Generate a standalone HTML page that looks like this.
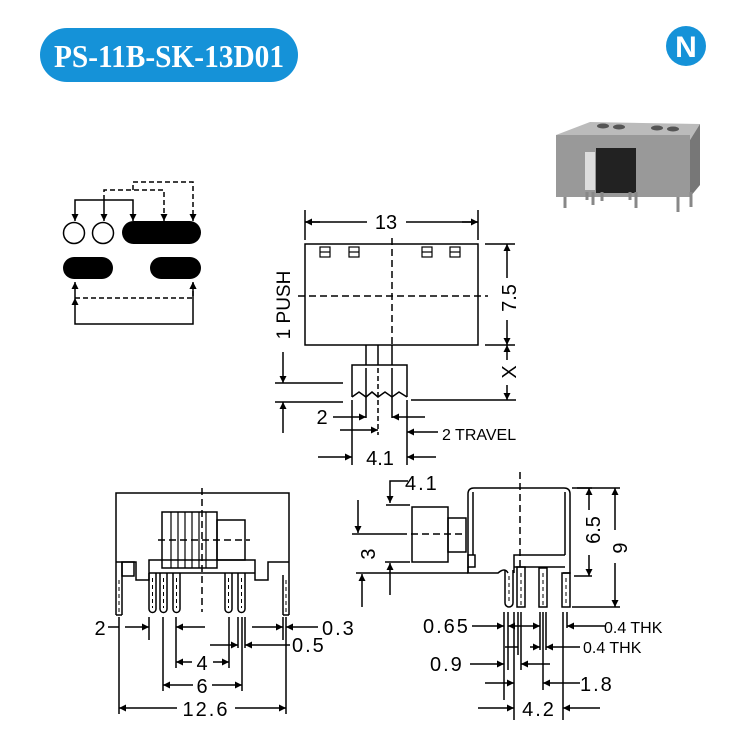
<!DOCTYPE html>
<html><head><meta charset="utf-8"><style>
html,body{margin:0;padding:0;background:#fff;}
svg{display:block}
text{font-family:"Liberation Sans",Arial,sans-serif;fill:#000}
</style></head><body>
<svg width="735" height="744" viewBox="0 0 735 744" xmlns="http://www.w3.org/2000/svg">
<defs>
<marker id="a" viewBox="0 0 10 10" refX="10" refY="5" markerWidth="9" markerHeight="7" orient="auto-start-reverse" markerUnits="userSpaceOnUse"><path d="M0,0 L10,5 L0,10 z" fill="#000"/></marker>
</defs>
<!-- title -->
<rect x="40" y="28" width="258" height="54" rx="27" fill="#1592d8"/>
<text x="169" y="67" text-anchor="middle" style="font-family:'Liberation Serif',serif;font-weight:bold;font-size:32px;fill:#fff" textLength="230" lengthAdjust="spacingAndGlyphs">PS-11B-SK-13D01</text>
<circle cx="686" cy="46" r="20" fill="#1592d8"/>
<text x="686" y="57" text-anchor="middle" style="font-weight:bold;font-size:30px;fill:#fff">N</text>

<!-- photo -->
<g>
<polygon points="556,135 590,122 700,124 690,140" fill="#bbb"/>
<rect x="556" y="135" width="134" height="62" fill="#999"/>
<polygon points="690,140 700,124 700,185 690,197" fill="#777"/>
<rect x="596" y="148" width="40" height="45" fill="#222"/>
<rect x="585" y="152" width="10" height="38" fill="#ddd"/>
<g fill="#555"><ellipse cx="603" cy="126" rx="6" ry="2.5"/><ellipse cx="619" cy="127" rx="6" ry="2.5"/><ellipse cx="657" cy="128" rx="6" ry="2.5"/><ellipse cx="673" cy="129" rx="6" ry="2.5"/></g>
<g stroke="#888" stroke-width="3"><line x1="565" y1="197" x2="565" y2="208"/><line x1="587" y1="192" x2="587" y2="200"/><line x1="593" y1="192" x2="593" y2="205"/><line x1="602" y1="192" x2="602" y2="201"/><line x1="630" y1="192" x2="630" y2="200"/><line x1="636" y1="192" x2="636" y2="208"/><line x1="678" y1="197" x2="678" y2="212"/><line x1="691" y1="192" x2="691" y2="207"/></g>
</g>

<!-- schematic -->
<g stroke="#000" stroke-width="1.5" fill="none">
<circle cx="74" cy="233" r="10.5"/><circle cx="103" cy="233" r="10.5"/>
<polyline points="75,221 75,200 133,200 133,221" marker-start="url(#a)" marker-end="url(#a)"/>
<line x1="104" y1="200" x2="104" y2="221" marker-end="url(#a)"/>
<polyline points="104,200 104,190 164,190 164,221" stroke-dasharray="5,3" marker-end="url(#a)"/>
<polyline points="133,190 133,182 193,182 193,221" stroke-dasharray="5,3" marker-end="url(#a)"/>
<polyline points="75,298 75,282" marker-end="url(#a)"/>
<polyline points="75,298 193,298 193,282" stroke-dasharray="5,3" marker-end="url(#a)"/>
<polyline points="193,310 193,324 75,324 75,298" marker-end="url(#a)"/>
<line x1="193" y1="310" x2="193" y2="282" marker-end="url(#a)"/>
</g>
<rect x="122" y="221" width="79" height="23" rx="11.5" fill="#000"/>
<rect x="63" y="257" width="50" height="22" rx="11" fill="#000"/>
<rect x="150" y="257" width="51" height="22" rx="11" fill="#000"/>

<!-- top view -->
<g stroke="#000" stroke-width="1.5" fill="none">
<rect x="305" y="244" width="173" height="101"/>
<g stroke-width="1.2"><rect x="320" y="247" width="10" height="10"/><line x1="320" y1="252" x2="330" y2="252"/><rect x="349" y="247" width="10" height="10"/><line x1="349" y1="252" x2="359" y2="252"/><rect x="422" y="247" width="10" height="10"/><line x1="422" y1="252" x2="432" y2="252"/><rect x="450" y="247" width="10" height="10"/><line x1="450" y1="252" x2="460" y2="252"/></g>
<line x1="392" y1="238" x2="392" y2="345" stroke-dasharray="7,4"/>
<line x1="298" y1="296" x2="488" y2="296" stroke-dasharray="7,4"/>
<line x1="366" y1="345" x2="366" y2="365"/><line x1="378" y1="345" x2="378" y2="365"/><line x1="392" y1="345" x2="392" y2="365"/>
<polyline points="352,397 352,365 407,365 407,397"/>
<polyline points="352,397 359,392 366,397 372,392 378,397 385,392 392,397 399,392 407,397"/>
<line x1="366" y1="368" x2="366" y2="418"/><line x1="378" y1="368" x2="378" y2="435" stroke-dasharray="5,3"/><line x1="392" y1="368" x2="392" y2="418"/>
<line x1="352" y1="400" x2="352" y2="465"/><line x1="407" y1="400" x2="407" y2="465"/>
<line x1="305" y1="240" x2="305" y2="210"/><line x1="478" y1="240" x2="478" y2="210"/>
<line x1="320" y1="222" x2="305" y2="222" marker-end="url(#a)"/><line x1="462" y1="222" x2="478" y2="222" marker-end="url(#a)"/>
<line x1="305" y1="222" x2="367" y2="222"/><line x1="406" y1="222" x2="478" y2="222"/>
<line x1="485" y1="244" x2="515" y2="244"/><line x1="485" y1="345" x2="515" y2="345"/>
<line x1="411" y1="400" x2="516" y2="400"/>
<line x1="507" y1="265" x2="507" y2="244" marker-end="url(#a)"/><line x1="507" y1="265" x2="507" y2="278"/>
<line x1="507" y1="320" x2="507" y2="345" marker-end="url(#a)"/>
<line x1="507" y1="360" x2="507" y2="345" marker-end="url(#a)"/>
<line x1="507" y1="385" x2="507" y2="400" marker-end="url(#a)"/>
<line x1="275" y1="383" x2="343" y2="383"/><line x1="275" y1="402" x2="343" y2="402"/>
<line x1="283" y1="352" x2="283" y2="383" marker-end="url(#a)"/>
<line x1="283" y1="433" x2="283" y2="402" marker-end="url(#a)"/>
<line x1="333" y1="417" x2="366" y2="417" marker-end="url(#a)"/>
<line x1="425" y1="417" x2="392" y2="417" marker-end="url(#a)"/>
<line x1="340" y1="430" x2="378" y2="430" marker-end="url(#a)"/>
<line x1="438" y1="432" x2="407" y2="432" marker-end="url(#a)"/>
<line x1="318" y1="457" x2="352" y2="457" marker-end="url(#a)"/>
<line x1="436" y1="457" x2="407" y2="457" marker-end="url(#a)"/>
</g>
<text x="386" y="229" text-anchor="middle" font-size="20">13</text>
<text transform="translate(516,298) rotate(-90)" text-anchor="middle" font-size="20">7.5</text>
<text transform="translate(516,372) rotate(-90)" text-anchor="middle" font-size="20">X</text>
<text transform="translate(290,305) rotate(-90)" text-anchor="middle" font-size="19">1 PUSH</text>
<text x="322" y="424" text-anchor="middle" font-size="20">2</text>
<text x="442" y="440" font-size="16">2 TRAVEL</text>
<text x="380" y="465" text-anchor="middle" font-size="20">4.1</text>

<!-- bottom left -->
<g stroke="#000" stroke-width="1.5" fill="none">
<polyline points="116,615 116,493 289,493 289,615"/>
<rect x="162" y="512" width="55" height="56"/>
<g stroke-width="1.2"><line x1="171" y1="512" x2="171" y2="568"/><line x1="178" y1="512" x2="178" y2="568"/><line x1="185" y1="512" x2="185" y2="568"/><line x1="192" y1="512" x2="192" y2="568"/><line x1="199" y1="512" x2="199" y2="568"/><line x1="206" y1="512" x2="206" y2="568"/></g>
<rect x="217" y="520" width="28" height="40"/>
<polyline points="116,562 136,562 136,580 149,580 149,560 255,560 255,580 268,580 268,562 289,562"/>
<line x1="149" y1="573" x2="255" y2="573"/>
<line x1="122" y1="562" x2="122" y2="615"/><line x1="283" y1="575" x2="283" y2="615"/>
<rect x="122" y="562" width="12" height="14"/>
<line x1="116" y1="615" x2="122" y2="615"/><line x1="283" y1="615" x2="289" y2="615"/>
<line x1="158" y1="540" x2="250" y2="540" stroke-dasharray="7,4"/>
<line x1="202" y1="488" x2="202" y2="612" stroke-dasharray="7,4"/>
<path d="M149,573 v36 a3.5,3.5 0 0 0 7,0 v-36"/>
<path d="M160,573 v36 a3.5,3.5 0 0 0 7,0 v-36"/>
<path d="M173,573 v36 a3.5,3.5 0 0 0 7,0 v-36"/>
<path d="M225,573 v36 a3.5,3.5 0 0 0 7,0 v-36"/>
<path d="M238,573 v36 a3.5,3.5 0 0 0 7,0 v-36"/>
<g stroke-dasharray="4,3" stroke-width="1"><line x1="152.5" y1="578" x2="152.5" y2="608"/><line x1="163.5" y1="578" x2="163.5" y2="608"/><line x1="176.5" y1="578" x2="176.5" y2="608"/><line x1="228.5" y1="578" x2="228.5" y2="608"/><line x1="241.5" y1="578" x2="241.5" y2="608"/><line x1="119" y1="580" x2="119" y2="612"/><line x1="286" y1="580" x2="286" y2="612"/></g>
<line x1="119" y1="617" x2="119" y2="714"/><line x1="149" y1="617" x2="149" y2="640"/>
<line x1="163" y1="617" x2="163" y2="691"/><line x1="176" y1="617" x2="176" y2="668"/>
<line x1="229" y1="617" x2="229" y2="668"/><line x1="238" y1="617" x2="238" y2="648"/><line x1="242" y1="617" x2="242" y2="691"/><line x1="245" y1="617" x2="245" y2="648"/>
<line x1="283" y1="617" x2="283" y2="640"/><line x1="286" y1="617" x2="286" y2="714"/>
<line x1="108" y1="627" x2="119" y2="627"/><line x1="125" y1="627" x2="149" y2="627" marker-end="url(#a)"/>
<line x1="205" y1="627" x2="176" y2="627" marker-end="url(#a)"/>
<line x1="252" y1="627" x2="283" y2="627" marker-end="url(#a)"/>
<line x1="318" y1="627" x2="286" y2="627" marker-end="url(#a)"/>
<line x1="210" y1="645" x2="238" y2="645" marker-end="url(#a)"/>
<line x1="290" y1="645" x2="245" y2="645" marker-end="url(#a)"/>
<line x1="192" y1="662" x2="176" y2="662" marker-end="url(#a)"/><line x1="213" y1="662" x2="229" y2="662" marker-end="url(#a)"/>
<line x1="193" y1="685" x2="163" y2="685" marker-end="url(#a)"/><line x1="212" y1="685" x2="242" y2="685" marker-end="url(#a)"/>
<line x1="177" y1="708" x2="119" y2="708" marker-end="url(#a)"/><line x1="235" y1="708" x2="286" y2="708" marker-end="url(#a)"/>
</g>
<text x="100" y="635" text-anchor="middle" font-size="20">2</text>
<text x="322" y="635" font-size="20" letter-spacing="2">0.3</text>
<text x="292" y="652" font-size="20" letter-spacing="2">0.5</text>
<text x="202" y="670" text-anchor="middle" font-size="20">4</text>
<text x="202" y="693" text-anchor="middle" font-size="20">6</text>
<text x="206" y="716" text-anchor="middle" font-size="20" letter-spacing="2">12.6</text>

<!-- bottom right -->
<g stroke="#000" stroke-width="1.5" fill="none">
<path d="M468,573 V494 Q468,488 474,488 H564 Q570,488 570,494 V573 H563"/>
<line x1="473" y1="492" x2="473" y2="555"/><rect x="468" y="555" width="7" height="12"/>
<line x1="565" y1="492" x2="565" y2="555"/>
<polyline points="514,573 514,555 565,555"/>
<line x1="514" y1="567" x2="565" y2="567"/>
<path d="M468,567 V573 H498 Q505,567 508,573"/>
<rect x="412" y="507" width="36" height="55"/>
<rect x="448" y="518" width="18" height="34"/>
<line x1="520" y1="472" x2="520" y2="567" stroke-dasharray="7,4"/>
<line x1="400" y1="534" x2="466" y2="534" stroke-dasharray="7,4"/>
<path d="M505,570 v33 a4,4 0 0 0 8,0 v-33"/>
<rect x="517" y="567" width="8" height="40"/>
<rect x="539" y="568" width="8" height="39"/>
<rect x="562" y="573" width="8" height="34"/>
<g stroke-dasharray="4,3" stroke-width="1"><line x1="509" y1="576" x2="509" y2="603"/><line x1="521" y1="573" x2="521" y2="605"/><line x1="543" y1="573" x2="543" y2="605"/><line x1="566" y1="578" x2="566" y2="605"/></g>
<line x1="572" y1="488" x2="592" y2="488"/><line x1="574" y1="576" x2="592" y2="576"/><line x1="572" y1="607" x2="620" y2="607"/><line x1="577" y1="488" x2="620" y2="488"/>
<line x1="589" y1="510" x2="589" y2="488" marker-end="url(#a)"/><line x1="589" y1="555" x2="589" y2="576" marker-end="url(#a)"/>
<line x1="615" y1="530" x2="615" y2="488" marker-end="url(#a)"/><line x1="615" y1="563" x2="615" y2="607" marker-end="url(#a)"/>
<polyline points="408,481 390,481 390,503" marker-end="url(#a)"/><line x1="386" y1="505" x2="410" y2="505"/>
<line x1="358" y1="500" x2="358" y2="533" marker-end="url(#a)"/><line x1="352" y1="534" x2="400" y2="534"/>
<line x1="385" y1="562" x2="410" y2="562"/>
<line x1="390" y1="595" x2="390" y2="563" marker-end="url(#a)"/>
<line x1="356" y1="573" x2="468" y2="573"/>
<line x1="362" y1="607" x2="362" y2="574" marker-end="url(#a)"/>
<line x1="504" y1="612" x2="504" y2="700"/><line x1="508" y1="612" x2="508" y2="670"/><line x1="514" y1="612" x2="514" y2="720"/><line x1="518" y1="612" x2="518" y2="655"/><line x1="521" y1="612" x2="521" y2="670"/>
<line x1="540" y1="612" x2="540" y2="650"/><line x1="543" y1="612" x2="543" y2="690"/><line x1="546" y1="612" x2="546" y2="650"/>
<line x1="563" y1="612" x2="563" y2="720"/><line x1="567" y1="612" x2="567" y2="628"/>
<line x1="472" y1="626" x2="504" y2="626" marker-end="url(#a)"/>
<line x1="530" y1="626" x2="508" y2="626" marker-end="url(#a)"/><line x1="530" y1="626" x2="540" y2="626" marker-end="url(#a)"/>
<line x1="606" y1="626" x2="567" y2="626" marker-end="url(#a)"/>
<line x1="505" y1="647" x2="518" y2="647"/><line x1="530" y1="647" x2="540" y2="647" marker-end="url(#a)"/><line x1="580" y1="647" x2="546" y2="647" marker-end="url(#a)"/>
<line x1="470" y1="664" x2="504" y2="664" marker-end="url(#a)"/><line x1="550" y1="664" x2="521" y2="664" marker-end="url(#a)"/>
<line x1="485" y1="683" x2="514" y2="683" marker-end="url(#a)"/><line x1="580" y1="683" x2="543" y2="683" marker-end="url(#a)"/>
<line x1="478" y1="708" x2="514" y2="708" marker-end="url(#a)"/><line x1="600" y1="708" x2="563" y2="708" marker-end="url(#a)"/>
</g>
<text x="405" y="490" font-size="20" letter-spacing="2">4.1</text>
<text transform="translate(375,554) rotate(-90)" text-anchor="middle" font-size="20">3</text>
<text transform="translate(600,530) rotate(-90)" text-anchor="middle" font-size="20">6.5</text>
<text transform="translate(627,548) rotate(-90)" text-anchor="middle" font-size="20">9</text>
<text x="423" y="633" font-size="20" letter-spacing="2">0.65</text>
<text x="604" y="633" font-size="16">0.4 THK</text>
<text x="583" y="653" font-size="16">0.4 THK</text>
<text x="430" y="671" font-size="20" letter-spacing="2">0.9</text>
<text x="580" y="691" font-size="20" letter-spacing="2">1.8</text>
<text x="539" y="716" text-anchor="middle" font-size="20" letter-spacing="2">4.2</text>
</svg>
</body></html>
